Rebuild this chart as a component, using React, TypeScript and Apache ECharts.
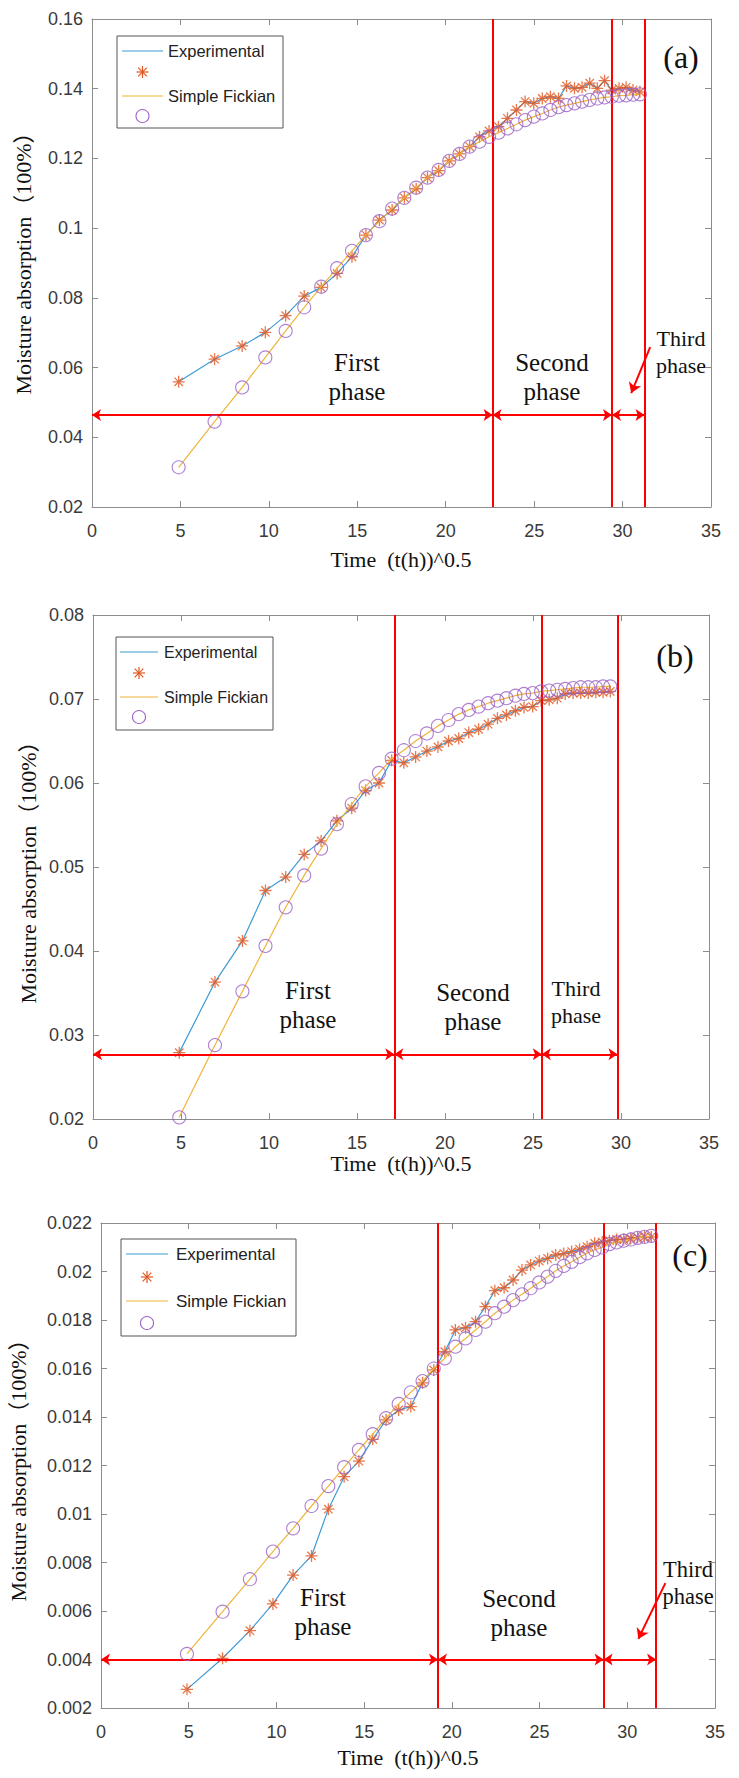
import React, { useEffect, useRef } from 'react';
import * as echarts from 'echarts';

// sqrt(time in hours)
const sqrtTime = [4.90, 6.93, 8.49, 9.80, 10.95, 12.00, 12.96, 13.86, 14.70, 15.49, 16.25, 16.97, 17.66, 18.33, 18.97, 19.60, 20.20, 20.78, 21.35, 21.91, 22.45, 22.98, 23.49, 24.00, 24.49, 24.98, 25.46, 25.92, 26.38, 26.83, 27.28, 27.71, 28.14, 28.57, 28.98, 29.39, 29.80, 30.20, 30.59, 30.98, 31.37];

// Panel (a)
const expA = [0.0559, 0.0624, 0.0662, 0.0701, 0.0749, 0.0805, 0.0830, 0.0870, 0.0918, 0.0980, 0.1023, 0.1052, 0.1087, 0.1113, 0.1145, 0.1165, 0.1193, 0.1213, 0.1234, 0.1262, 0.1279, 0.1291, 0.1315, 0.1339, 0.1363, 0.1358, 0.1372, 0.1377, 0.1372, 0.1408, 0.1401, 0.1404, 0.1416, 0.1401, 0.1423, 0.1396, 0.1401, 0.1404, 0.1396, 0.1391];
const fickA = [0.0314, 0.0445, 0.0543, 0.0629, 0.0705, 0.0773, 0.0832, 0.0885, 0.0935, 0.0980, 0.1020, 0.1056, 0.1087, 0.1116, 0.1145, 0.1167, 0.1193, 0.1213, 0.1234, 0.1248, 0.1262, 0.1274, 0.1286, 0.1298, 0.1310, 0.1320, 0.1329, 0.1339, 0.1347, 0.1353, 0.1358, 0.1363, 0.1368, 0.1372, 0.1375, 0.1377, 0.1380, 0.1381, 0.1383, 0.1384];
const boundsA = [22.65, 29.4, 31.24];
const arrowLevelA = 0.0464;
const pointerA = [[31.56, 0.0659], [30.49, 0.0527]];

// Panel (b)
const expB = [0.0279, 0.0363, 0.0412, 0.0472, 0.0488, 0.0515, 0.0531, 0.0555, 0.0570, 0.0591, 0.0600, 0.0627, 0.0624, 0.0631, 0.0638, 0.0643, 0.0650, 0.0653, 0.0660, 0.0664, 0.0670, 0.0677, 0.0681, 0.0686, 0.0690, 0.0691, 0.0698, 0.0699, 0.0701, 0.0706, 0.0707, 0.0707, 0.0707, 0.0708, 0.0708, 0.0709];
const fickB = [0.0202, 0.0288, 0.0352, 0.0406, 0.0452, 0.0490, 0.0522, 0.0551, 0.0575, 0.0596, 0.0612, 0.0629, 0.0639, 0.0650, 0.0659, 0.0668, 0.0675, 0.0682, 0.0687, 0.0691, 0.0695, 0.0698, 0.0701, 0.0704, 0.0706, 0.0707, 0.0709, 0.0710, 0.0711, 0.0712, 0.0713, 0.0714, 0.0714, 0.0714, 0.0715, 0.0715];
const boundsB = [17.12, 25.5, 29.8];
const arrowLevelB = 0.0277;

// Panel (c)
const expC = [0.00277, 0.00405, 0.00519, 0.00629, 0.00748, 0.00827, 0.0102, 0.01154, 0.01218, 0.01308, 0.01388, 0.01429, 0.01443, 0.01541, 0.01594, 0.01669, 0.01759, 0.01768, 0.01793, 0.01855, 0.01921, 0.01933, 0.01965, 0.02006, 0.02027, 0.02043, 0.02054, 0.02068, 0.02074, 0.02082, 0.02092, 0.02102, 0.02116, 0.02122, 0.02127, 0.02132, 0.02132, 0.02136, 0.0214, 0.02143, 0.02143];
const fickC = [0.00423, 0.00597, 0.00731, 0.00845, 0.00941, 0.01033, 0.01115, 0.01193, 0.01264, 0.01329, 0.01395, 0.01454, 0.01502, 0.01548, 0.0160, 0.01642, 0.0169, 0.01724, 0.01759, 0.01793, 0.01828, 0.01855, 0.01882, 0.01906, 0.01931, 0.01955, 0.01979, 0.02003, 0.02023, 0.0204, 0.02059, 0.02075, 0.02089, 0.02099, 0.02113, 0.0212, 0.02127, 0.02132, 0.02139, 0.02143, 0.02147];
const boundsC = [19.21, 28.65, 31.64];
const arrowLevelC = 0.004;
const pointerC = [[32.17, 0.00715], [30.63, 0.00485]];

// Axis ranges
const xRange = { min: 0, max: 35, step: 5 };
const yRangeA = { min: 0.02, max: 0.16, step: 0.02 };
const yRangeB = { min: 0.02, max: 0.08, step: 0.01 };
const yRangeC = { min: 0.002, max: 0.022, step: 0.002 };

const legendNames = ['Experimental', 'Simple Fickian'];
const panelTags = ['(a)', '(b)', '(c)'];
const xTitle = 'Time  (t(h))^0.5';
const yTitle = 'Moisture absorption（100%）';

const SERIF = '"Liberation Serif", "Times New Roman", "Noto Sans CJK SC", serif';
const SANS = '"Liberation Sans", Arial, Helvetica, sans-serif';
const BLUE = '#3f9bd6';
const ORANGE = '#e0561f';
const YELLOW = '#f0b43a';
const PURPLE = '#9a5fc4';
const RED = '#ff0000';
const AXIS = '#8c8c8c';
const STAR = 'path://M10,0L10,20M0,10L20,10M3,3L17,17M3,17L17,3';

const panels = [
  {
    grid: { left: 92, top: 19, width: 619, height: 488 },
    y: yRangeA, exp: expA, fick: fickA, bounds: boundsA, level: arrowLevelA, pointer: pointerA,
    xTitlePos: [401, 559], yTitlePos: [23, 258], tagPos: [681, 57],
    first: [357, 377], second: [552, 377], third: [681, 352], thirdSize: 22,
    legend: { x: 117, y: 36, w: 166, h: 92, l0: 5, l1: 46, tx: 51, rows: [15, 36, 60, 80], font: 16.5 },
  },
  {
    grid: { left: 93, top: 615, width: 616, height: 504 },
    y: yRangeB, exp: expB, fick: fickB, bounds: boundsB, level: arrowLevelB, pointer: null,
    xTitlePos: [401, 1163], yTitlePos: [28, 867], tagPos: [675, 656],
    first: [308, 1005], second: [473, 1007], third: [576, 1002], thirdSize: 22,
    legend: { x: 116, y: 637, w: 157, h: 93, l0: 4, l1: 42, tx: 48, rows: [15, 36, 60, 80], font: 16 },
  },
  {
    grid: { left: 101, top: 1223, width: 614, height: 485 },
    y: yRangeC, exp: expC, fick: fickC, bounds: boundsC, level: arrowLevelC, pointer: pointerC,
    xTitlePos: [408, 1757], yTitlePos: [18, 1465], tagPos: [690, 1255],
    first: [323, 1612], second: [519, 1613], third: [688, 1583], thirdSize: 22.5,
    legend: { x: 121, y: 1239, w: 175, h: 97, l0: 5, l1: 47, tx: 55, rows: [15, 38, 62, 84], font: 17 },
  },
];

function zip(xs: number[], ys: number[]) {
  return ys.map((v, i) => [xs[i], v]);
}

function starGlyph(cx: number, cy: number, r: number) {
  const d = r * 0.72;
  const seg = (x1: number, y1: number, x2: number, y2: number) => ({
    type: 'line', shape: { x1, y1, x2, y2 }, style: { stroke: ORANGE, lineWidth: 1.2 }, z: 101,
  });
  return [
    seg(cx, cy - r, cx, cy + r),
    seg(cx - r, cy, cx + r, cy),
    seg(cx - d, cy - d, cx + d, cy + d),
    seg(cx - d, cy + d, cx + d, cy - d),
  ];
}

function buildOption() {
  const grid: any[] = [];
  const xAxis: any[] = [];
  const yAxis: any[] = [];
  const series: any[] = [];
  const graphic: any[] = [];

  panels.forEach((p, i) => {
    grid.push({ ...p.grid, containLabel: false });
    const axisLine = { show: true, onZero: false, lineStyle: { color: AXIS, width: 1 } };
    const axisTick = { show: true, inside: true, length: 6, lineStyle: { color: AXIS, width: 1 } };
    const xLabel = { show: true, color: '#3a3a3a', fontSize: 18, fontFamily: SANS, margin: 15 };
    const yLabel = { show: true, color: '#3a3a3a', fontSize: 18, fontFamily: SANS, margin: 9 };
    xAxis.push({ gridIndex: i, type: 'value', position: 'bottom', min: xRange.min, max: xRange.max, interval: xRange.step, axisLine, axisTick, axisLabel: xLabel, splitLine: { show: false } });
    xAxis.push({ gridIndex: i, type: 'value', position: 'top', min: xRange.min, max: xRange.max, interval: xRange.step, axisLine, axisTick, axisLabel: { show: false }, splitLine: { show: false } });
    yAxis.push({ gridIndex: i, type: 'value', position: 'left', min: p.y.min, max: p.y.max, interval: p.y.step, axisLine, axisTick, axisLabel: yLabel, splitLine: { show: false } });
    yAxis.push({ gridIndex: i, type: 'value', position: 'right', min: p.y.min, max: p.y.max, interval: p.y.step, axisLine, axisTick, axisLabel: { show: false }, splitLine: { show: false } });

    const xs = sqrtTime.slice(0, p.exp.length);
    const ax = { xAxisIndex: 2 * i, yAxisIndex: 2 * i };

    const markData: any[] = p.bounds.map((b) => ({ xAxis: b }));
    const edges = [xRange.min, ...p.bounds];
    for (let k = 0; k < 3; k++) {
      markData.push([
        { coord: [edges[k], p.level], symbol: 'arrow', symbolSize: 9 },
        { coord: [edges[k + 1], p.level], symbol: 'arrow', symbolSize: 9 },
      ]);
    }
    if (p.pointer) {
      markData.push([
        { coord: p.pointer[0], symbol: 'none' },
        { coord: p.pointer[1], symbol: 'arrow', symbolSize: 10 },
      ]);
    }

    series.push({ type: 'line', ...ax, data: zip(xs, p.exp), symbol: 'none', showSymbol: false, silent: true, lineStyle: { color: BLUE, width: 1.2 }, z: 2 });
    series.push({ type: 'scatter', ...ax, data: zip(xs, p.exp), symbol: STAR, symbolSize: 12, silent: true, itemStyle: { color: 'rgba(0,0,0,0)', borderColor: ORANGE, borderWidth: 1.3 }, z: 3 });
    series.push({ type: 'line', ...ax, data: zip(xs, p.fick), symbol: 'none', showSymbol: false, silent: true, lineStyle: { color: YELLOW, width: 1.2 }, z: 4 });
    series.push({
      type: 'scatter', ...ax, data: zip(xs, p.fick), symbol: 'circle', symbolSize: 13, silent: true,
      itemStyle: { color: 'rgba(0,0,0,0)', borderColor: PURPLE, borderWidth: 1.1 }, z: 5,
      markLine: {
        silent: true, symbol: ['none', 'none'], label: { show: false },
        lineStyle: { color: RED, width: 2, type: 'solid' },
        emphasis: { disabled: true },
        data: markData,
      },
    });

    // titles and annotations
    graphic.push({ type: 'text', x: p.xTitlePos[0], y: p.xTitlePos[1], style: { text: xTitle, font: `22px ${SERIF}`, fill: '#111', align: 'center', verticalAlign: 'middle' } });
    graphic.push({ type: 'text', x: p.yTitlePos[0], y: p.yTitlePos[1], rotation: Math.PI / 2, style: { text: yTitle, font: `22px ${SERIF}`, fill: '#111', align: 'center', verticalAlign: 'middle' } });
    graphic.push({ type: 'text', x: p.tagPos[0], y: p.tagPos[1], style: { text: panelTags[i], font: `32px ${SERIF}`, fill: '#111', align: 'center', verticalAlign: 'middle' } });
    graphic.push({ type: 'text', x: p.first[0], y: p.first[1], style: { text: 'First\nphase', font: `25px ${SERIF}`, lineHeight: 29, fill: '#111', align: 'center', verticalAlign: 'middle' } });
    graphic.push({ type: 'text', x: p.second[0], y: p.second[1], style: { text: 'Second\nphase', font: `25px ${SERIF}`, lineHeight: 29, fill: '#111', align: 'center', verticalAlign: 'middle' } });
    graphic.push({ type: 'text', x: p.third[0], y: p.third[1], style: { text: 'Third\nphase', font: `${p.thirdSize}px ${SERIF}`, lineHeight: 27, fill: '#111', align: 'center', verticalAlign: 'middle' } });

    // legend
    const L = p.legend;
    graphic.push({ type: 'rect', shape: { x: L.x, y: L.y, width: L.w, height: L.h }, style: { fill: '#fff', stroke: '#555', lineWidth: 1 }, z: 100 });
    graphic.push({ type: 'line', shape: { x1: L.x + L.l0, y1: L.y + L.rows[0], x2: L.x + L.l1, y2: L.y + L.rows[0] }, style: { stroke: BLUE, lineWidth: 1.2 }, z: 101 });
    graphic.push({ type: 'text', x: L.x + L.tx, y: L.y + L.rows[0], style: { text: legendNames[0], font: `${L.font}px ${SANS}`, fill: '#222', align: 'left', verticalAlign: 'middle' }, z: 101 });
    const mid = L.x + (L.l0 + L.l1) / 2;
    starGlyph(mid, L.y + L.rows[1], 6).forEach((g) => graphic.push(g));
    graphic.push({ type: 'line', shape: { x1: L.x + L.l0, y1: L.y + L.rows[2], x2: L.x + L.l1, y2: L.y + L.rows[2] }, style: { stroke: YELLOW, lineWidth: 1.2 }, z: 101 });
    graphic.push({ type: 'text', x: L.x + L.tx, y: L.y + L.rows[2], style: { text: legendNames[1], font: `${L.font}px ${SANS}`, fill: '#222', align: 'left', verticalAlign: 'middle' }, z: 101 });
    graphic.push({ type: 'circle', shape: { cx: mid, cy: L.y + L.rows[3], r: 6.5 }, style: { fill: 'none', stroke: PURPLE, lineWidth: 1.1 }, z: 101 });
  });

  return { animation: false, backgroundColor: '#fff', grid, xAxis, yAxis, series, graphic };
}

export default function App() {
  const ref = useRef<HTMLDivElement>(null);
  useEffect(() => {
    if (!ref.current) return;
    const chart = echarts.init(ref.current, null, { renderer: 'svg' });
    chart.setOption(buildOption() as any);
    return () => chart.dispose();
  }, []);
  return (
    <div
      ref={ref}
      style={{ position: 'absolute', left: 0, top: 0, width: 739, height: 1778, background: '#fff' }}
    />
  );
}
